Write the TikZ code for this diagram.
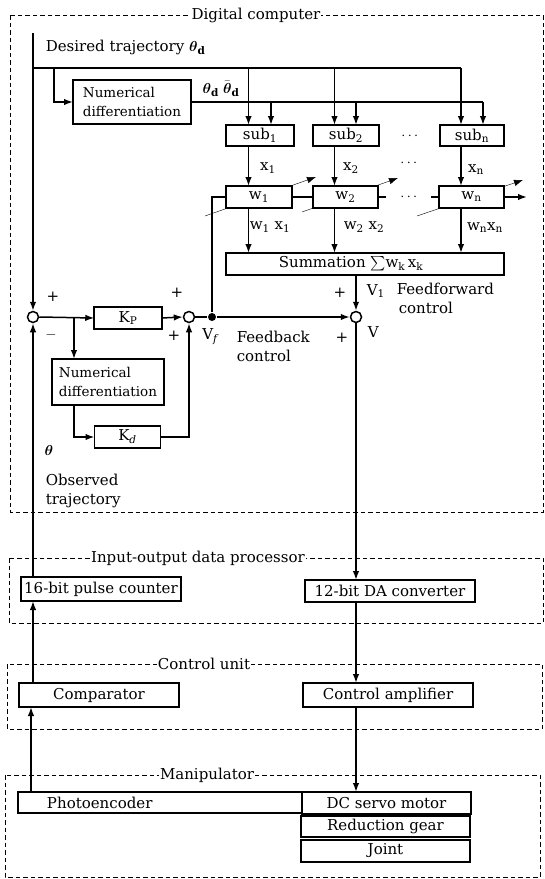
\documentclass[tikz,border=0pt]{standalone}
\usepackage{fontspec}
\setmainfont{DejaVu Serif}
\usepackage{amsmath}
\usetikzlibrary{arrows.meta,backgrounds,calc}
\begin{document}
\begin{tikzpicture}[x=1pt,y=-1pt,
  font=\fontsize{15}{19}\selectfont,
  line width=1.5pt,
  arr/.style={-{Latex[length=9pt,width=6.5pt]}},
  blk/.style={draw, line width=1.8pt, fill=white, inner sep=0pt, outer sep=0pt},
  ndfont/.style={font=\fontsize{13.5}{19}\selectfont},
  grp/.style={draw, line width=1pt, dash pattern=on 4.5pt off 3pt},
  gtitle/.style={fill=white, inner xsep=1pt, inner ysep=0pt},
  sj/.style={circle, draw, line width=1.5pt, fill=white, minimum size=11pt, inner sep=0pt},
  lbl/.style={inner sep=0pt}
]
\useasboundingbox (0,0) rectangle (545,879);

% group boxes
\draw[grp] (10,15) rectangle (543,512);
\node[gtitle] (tdc) at (256,15) {Digital computer};
\draw[grp] (9,558) rectangle (543,623);
\node[gtitle] (tio) at (198,558) {Input-output data processor};
\draw[grp] (7,664) rectangle (542,729);
\node[gtitle] (tcu) at (204,664) {Control unit};
\draw[grp] (5,775) rectangle (540,877);
\node[gtitle] (tma) at (207,775) {Manipulator};

% blocks
\node[blk, ndfont, minimum width=118pt, minimum height=44pt, align=left] (nd1) at (132,102) {Numerical\\differentiation};
\node[blk, minimum width=68pt, minimum height=21pt] (sub1) at (260,135.5) {sub\textsubscript{1}};
\node[blk, minimum width=66pt, minimum height=21pt] (sub2) at (346,135.5) {sub\textsubscript{2}};
\node[blk, minimum width=64pt, minimum height=21pt] (subn) at (472,135.5) {sub\textsubscript{n}};
\node[blk, minimum width=66pt, minimum height=22pt] (w1) at (259,197) {w\textsubscript{1}};
\node[blk, minimum width=65pt, minimum height=22pt] (w2) at (345.5,197) {w\textsubscript{2}};
\node[blk, minimum width=65pt, minimum height=22pt] (wn) at (471.5,197) {w\textsubscript{n}};
\node[blk, minimum width=278pt, minimum height=22pt] (sum) at (365,264) {Summation $\textstyle\sum$w\textsubscript{k}\,x\textsubscript{k}\hspace*{28pt}};
\node[blk, minimum width=67.5pt, minimum height=22pt] (Kp) at (128,318) {K\textsubscript{P}};
\node[blk, ndfont, minimum width=112.5pt, minimum height=46pt, align=left] (nd2) at (108,382) {Numerical\\differentiation};
\node[blk, minimum width=66pt, minimum height=22pt] (Kd) at (127.5,437) {K\textsubscript{\itshape d}};
\node[sj] (c1) at (33,317) {};
\node[sj] (c2) at (189,317) {};
\node[sj] (c3) at (356,317) {};
\node[circle, fill, minimum size=8pt, inner sep=0pt] (vf) at (212,317) {};
\node[blk, minimum width=159.5pt, minimum height=24pt] (pc) at (101,589) {16-bit pulse counter};
\node[blk, minimum width=169.5pt, minimum height=22pt] (da) at (390,591) {12-bit DA converter};
\node[blk, minimum width=160pt, minimum height=24pt] (comp) at (99,695) {Comparator};
\node[blk, minimum width=170pt, minimum height=24pt] (amp) at (388,695) {Control amplifier};
\node[blk, minimum width=284pt, minimum height=21pt, text width=260pt, inner xsep=12pt, align=left] (photo) at (160,802.5) {\hspace*{17pt}Photoencoder};
\node[blk, minimum width=169pt, minimum height=22pt] (dc) at (386.5,803) {DC servo motor};
\node[blk, minimum width=169pt, minimum height=21pt] (red) at (385.5,826.5) {Reduction gear};
\node[blk, minimum width=169pt, minimum height=22pt] (joint) at (385.5,851) {Joint};

% coordinates
\coordinate (top) at (33,33);
\coordinate (j0) at (33,68);
\coordinate (j1) at (54,68);
\coordinate (e0) at (461,68);
\coordinate (e1) at (483,102);
\coordinate (br) at (74,317);
\coordinate (wnout) at (527,197);

% top distribution
\draw[arr] (top) -- (c1.north);
\draw (j0) -- (e0);
\draw[arr] (j1) |- (nd1.west);
\draw (nd1.east) -- (e1);
\foreach \s/\w/\a/\b in {sub1/w1/248.5/271, sub2/w2/334.5/356, subn/wn/461/483} {
  \draw[arr] (\a,68) -- (\a,0 |- \s.north);
  \draw[arr] (\b,102) -- (\b,0 |- \s.north);
  \draw[arr] (\a,0 |- \s.south) -- (\a,0 |- \w.north);
  \draw[arr] (\a,0 |- \w.south) -- (\a,0 |- sum.north);
}
\draw (w1.east) -- (w2.west);
\draw (w2.east) -- ++(8,0);
\draw (wn.west) -- ++(-8,0);
\node[lbl] (wdots) at (410,197) {$\cdots$};
\draw[arr] (wn.east) -- (wnout);

\begin{scope}[on background layer]
\draw[arr] ($(w1)+(-54,19)$) -- ($(w1)+(57,-20)$);
\draw[arr] ($(w2)+(-43.5,15)$) -- ($(w2)+(52.5,-19)$);
\draw[arr] ($(wn)+(-54.5,19)$) -- ($(wn)+(51.5,-17)$);
\end{scope}

% feedback section
\draw[arr] (c1.east) -- (Kp.west);
\draw[arr] (br) -- (74,0 |- nd2.north);
\draw[arr] (74,0 |- nd2.south) |- (Kd.west);
\draw[arr] (Kd.east) -| (c2.south);
\draw[arr] (Kp.east) -- (c2.west);
\draw (c2.east) -- (vf);
\draw[arr] (vf) -- (c3.west);
\draw (vf) |- (w1.west);
\draw[arr] (356,0 |- sum.south) -- (c3.north);

% lower chain
\draw[arr] (c3.south) -- (356,0 |- da.north);
\draw[arr] (356,0 |- da.south) -- (356,0 |- amp.north);
\draw[arr] (356,0 |- amp.south) -- (356,0 |- dc.north);
\draw[arr] (31,0 |- photo.north) -- (31,0 |- comp.south);
\draw[arr] (33,0 |- comp.north) -- (33,0 |- pc.south);
\draw[arr] (33,0 |- pc.north) -- (c1.south);

% labels
\node[lbl, anchor=west] (ldes) at (45,47) {Desired trajectory $\boldsymbol{\theta}_{\mathbf d}$};
\node[lbl] (lthd) at (221,89) {$\boldsymbol{\theta}_{\mathbf d}\;\bar{\boldsymbol{\theta}}_{\mathbf d}$};
\node[lbl] (lsdots) at (411,136) {$\cdots$};
\node[lbl] (lx1) at (268,168) {x\textsubscript{1}};
\node[lbl] (lx2) at (351,168) {x\textsubscript{2}};
\node[lbl] (lxdots) at (410,163) {$\cdots$};
\node[lbl] (lxn) at (476,170) {x\textsubscript{n}};
\node[lbl] (lwx1) at (270,227) {w\textsubscript{1} x\textsubscript{1}};
\node[lbl] (lwx2) at (364,227) {w\textsubscript{2} x\textsubscript{2}};
\node[lbl] (lwxn) at (485,228) {w\textsubscript{n}x\textsubscript{n}};
\node[lbl] (p31) at (340,293) {+};
\node[lbl, anchor=west] (lv1) at (366,291) {V\textsubscript{1}};
\node[lbl, anchor=north west, align=left] (lff) at (396,282) {Feedforward\\\hspace*{2pt}control};
\node[lbl, anchor=west] (lv) at (367,332) {V};
\node[lbl] (p32) at (342,338) {+};
\node[lbl] (p11) at (53,297) {+};
\node[lbl] (m12) at (51,335) {$-$};
\node[lbl] (p21) at (177,293) {+};
\node[lbl] (p22) at (174,336) {+};
\node[lbl] (lvf) at (210,337) {V\textsubscript{\itshape f}};
\node[lbl, anchor=north west, align=left] (lfb) at (236,330) {Feedback\\control};
\node[lbl] (lth) at (49,450) {$\boldsymbol{\theta}$};
\node[lbl, anchor=north west, align=left] (lobs) at (45,473) {Observed\\trajectory};
\end{tikzpicture}
\end{document}
